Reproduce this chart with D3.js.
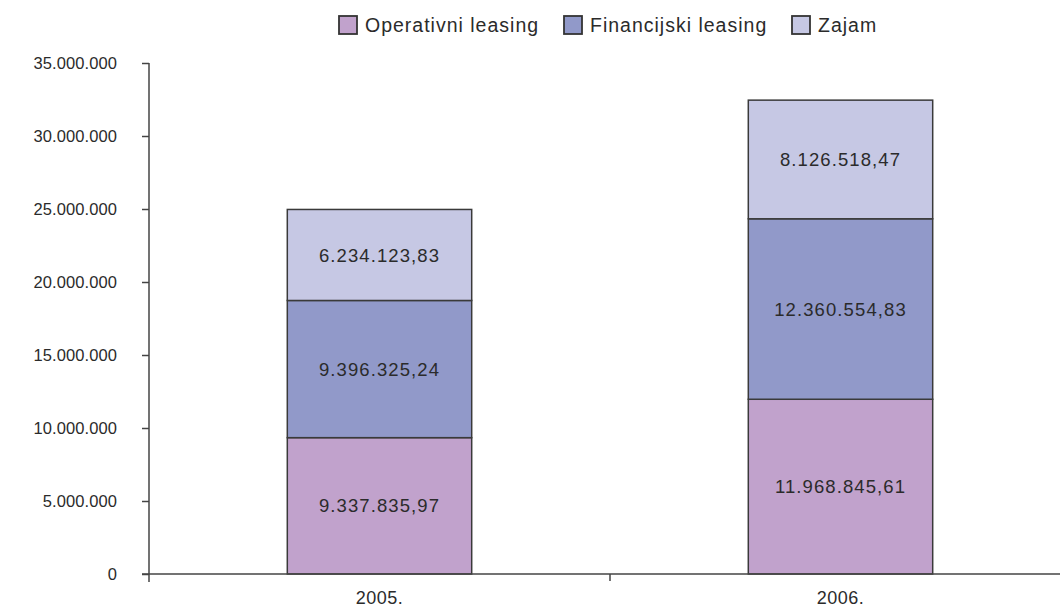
<html>
<head>
<meta charset="utf-8">
<script src="https://d3js.org/d3.v7.min.js"></script>
<style>
  body { margin: 0; background: #fff; }
  text { font-family: "Liberation Sans", Arial, sans-serif; fill: #2b2b2b; }
</style>
</head>
<body>
<svg id="chart" width="1060" height="608"></svg>
<script>
var years = ["2005.", "2006."];
var seriesNames = ["Operativni leasing", "Financijski leasing", "Zajam"];
var operativni = [9337835.97, 11968845.61];
var financijski = [9396325.24, 12360554.83];
var zajam = [6234123.83, 8126518.47];
var labels = [
  ["9.337.835,97", "11.968.845,61"],
  ["9.396.325,24", "12.360.554,83"],
  ["6.234.123,83", "8.126.518,47"]
];
var yTicks = [0, 5000000, 10000000, 15000000, 20000000, 25000000, 30000000, 35000000];
var yTickLabels = ["0", "5.000.000", "10.000.000", "15.000.000", "20.000.000", "25.000.000", "30.000.000", "35.000.000"];
var colors = ["#c1a2cc", "#9199c9", "#c6c8e4"];

var rows = years.map(function(y, i) {
  return { year: y, i: i, "Operativni leasing": operativni[i], "Financijski leasing": financijski[i], "Zajam": zajam[i] };
});

var svg = d3.select("#chart");

var axisLeftX = 149;
var x = d3.scaleBand().domain(years).range([axisLeftX, 1071]).padding(0);
var y = d3.scaleLinear().domain([0, 35000000]).range([574, 63]);

var barW = x.bandwidth() * 0.4;

var stack = d3.stack().keys(seriesNames)(rows);

var layers = svg.selectAll(".layer")
  .data(stack)
  .enter().append("g")
  .attr("fill", function(d, i) { return colors[i]; });

layers.selectAll("rect")
  .data(function(d) { return d; })
  .enter().append("rect")
  .attr("x", function(d) { return x(d.data.year) + (x.bandwidth() - barW) / 2; })
  .attr("width", barW)
  .attr("y", function(d) { return y(d[1]); })
  .attr("height", function(d) { return y(d[0]) - y(d[1]); })
  .attr("stroke", "#3a3a3a")
  .attr("stroke-width", 1.5);

stack.forEach(function(layer, si) {
  layer.forEach(function(d, j) {
    svg.append("text")
      .attr("x", x(d.data.year) + x.bandwidth() / 2)
      .attr("y", (y(d[0]) + y(d[1])) / 2)
      .attr("dy", "0.36em")
      .attr("text-anchor", "middle")
      .style("font-size", "18.5px")
      .style("letter-spacing", "1.1px")
      .text(labels[si][j]);
  });
});

// y axis
var yAxis = d3.axisLeft(y).tickValues(yTicks).tickSize(7).tickPadding(25)
  .tickFormat(function(d, i) { return yTickLabels[i]; });
var gy = svg.append("g").attr("transform", "translate(" + axisLeftX + ",0)").call(yAxis);
gy.select(".domain").remove();
gy.selectAll(".tick line").attr("stroke", "#444").attr("stroke-width", 1.5);
gy.selectAll(".tick text")
  .style("font-size", "16.5px")
  .style("letter-spacing", "0.1px")
  .style("font-family", "Liberation Sans, Arial, sans-serif")
  .attr("fill", "#2b2b2b");
svg.append("line").attr("x1", axisLeftX).attr("x2", axisLeftX)
  .attr("y1", y(35000000)).attr("y2", y(0) + 8)
  .attr("stroke", "#444").attr("stroke-width", 1.5);

// x axis
svg.append("line").attr("x1", axisLeftX - 7).attr("x2", 1060)
  .attr("y1", y(0)).attr("y2", y(0))
  .attr("stroke", "#444").attr("stroke-width", 1.5);
years.slice(1).forEach(function(yr) {
  svg.append("line").attr("x1", x(yr)).attr("x2", x(yr))
    .attr("y1", y(0)).attr("y2", y(0) + 7)
    .attr("stroke", "#444").attr("stroke-width", 1.5);
});
years.forEach(function(yr) {
  svg.append("text")
    .attr("x", x(yr) + x.bandwidth() / 2)
    .attr("y", 604)
    .attr("text-anchor", "middle")
    .style("font-size", "18px")
    .style("letter-spacing", "0.5px")
    .text(yr);
});

// legend
var legendX = [339, 564, 792];
seriesNames.forEach(function(name, i) {
  svg.append("rect")
    .attr("x", legendX[i]).attr("y", 16)
    .attr("width", 18).attr("height", 18)
    .attr("fill", colors[i])
    .attr("stroke", "#333").attr("stroke-width", 1.8);
  svg.append("text")
    .attr("x", legendX[i] + 26).attr("y", 25)
    .attr("dy", "0.36em")
    .style("font-size", "19.5px")
    .style("letter-spacing", "1px")
    .text(name);
});
</script>
</body>
</html>
